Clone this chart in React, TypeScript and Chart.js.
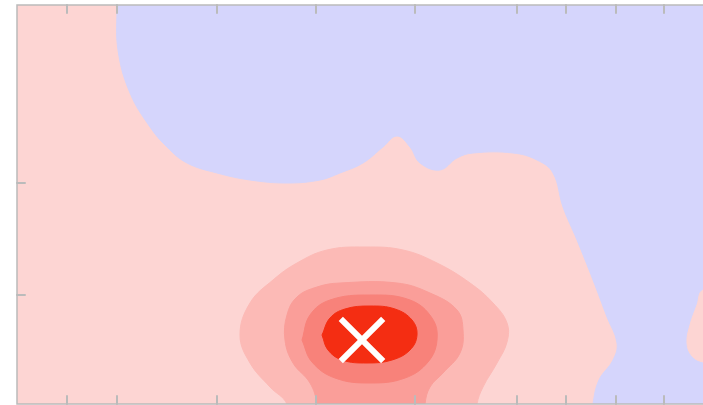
import React, { useEffect, useRef } from "react";
import { Chart, registerables } from "chart.js";

Chart.register(...registerables);

// Axis ticks (data units)
const xTicks = [50, 100, 200, 299, 398, 500, 549, 599, 647];
const yTicks = [178, 290];

// Contour regions as boundary points (x, y) in data units
const blueRegionX = [100, 100, 101, 113, 133, 150, 170, 200, 233, 270, 303, 323, 346, 366, 380, 393, 403, 423, 440, 456, 496, 520, 536, 546, 560, 576, 590, 600, 596, 582, 576, 574, 720, 720];
const blueRegionY = [-25, 0, 45, 88, 122, 142, 158, 168, 175, 178, 175, 168, 158, 142, 131, 142, 158, 165, 153, 148, 148, 155, 168, 202, 235, 275, 312, 338, 355, 375, 399, 425, 425, -25];

const rightPinkX = [720, 686, 680, 673, 670, 675, 686, 720];
const rightPinkY = [280, 285, 300, 320, 338, 351, 357, 362];

const ring1X = [273, 270, 253, 233, 223, 233, 256, 280, 310, 348, 386, 420, 453, 476, 490, 490, 480, 466, 460, 458];
const ring1Y = [425, 399, 382, 358, 330, 298, 275, 258, 245, 242, 245, 258, 278, 298, 318, 337, 358, 382, 399, 425];

const ring2X = [301, 300, 293, 276, 268, 270, 280, 300, 323, 380, 413, 440, 446, 443, 426, 413, 408, 407];
const ring2Y = [425, 399, 378, 358, 335, 310, 292, 282, 278, 278, 288, 305, 325, 348, 368, 382, 399, 425];

const ring3X = [285, 293, 313, 353, 393, 415, 420, 411, 388, 353, 318, 295, 285];
const ring3Y = [335, 310, 295, 290, 295, 313, 335, 357, 373, 378, 373, 357, 335];

const coreX = [305, 313, 328, 353, 378, 395, 400, 393, 375, 350, 325, 311, 305];
const coreY = [330, 313, 304, 301, 304, 315, 330, 345, 355, 358, 355, 345, 330];

const optimumX = [345];
const optimumY = [335];

const pts = (xs: number[], ys: number[]) => xs.map((x, i) => ({ x, y: ys[i] }));

const COLORS = {
  pink: "#fdd5d3",
  blue: "#d5d5fc",
  ring1: "#fcbab6",
  ring2: "#fa9e99",
  ring3: "#f8827a",
  core: "#f42d12",
  axis: "#bbbbbb",
};

function region(xs: number[], ys: number[], color: string, order: number) {
  return {
    type: "line" as const,
    data: pts(xs, ys),
    showLine: true,
    fill: "shape",
    backgroundColor: color,
    borderColor: color,
    borderWidth: 1,
    pointRadius: 0,
    tension: 0.4,
    order,
    clip: 0,
  };
}

export default function App() {
  const ref = useRef<HTMLCanvasElement | null>(null);

  useEffect(() => {
    document.body.style.margin = "0";
    document.body.style.overflow = "hidden";
    const canvas = ref.current!;
    const bgPlugin = {
      id: "bg",
      beforeDatasetsDraw(chart: any) {
        const { ctx, chartArea } = chart;
        ctx.save();
        ctx.fillStyle = COLORS.pink;
        ctx.fillRect(chartArea.left, chartArea.top, chartArea.right - chartArea.left, chartArea.bottom - chartArea.top);
        ctx.restore();
      },
      afterDraw(chart: any) {
        const { ctx, chartArea, scales } = chart;
        const { left, right, top, bottom } = chartArea;
        ctx.save();
        ctx.strokeStyle = COLORS.axis;
        ctx.lineWidth = 1.5;
        ctx.beginPath();
        ctx.moveTo(right, top);
        ctx.lineTo(left, top);
        ctx.lineTo(left, bottom);
        ctx.lineTo(right, bottom);
        ctx.stroke();
        ctx.lineWidth = 2;
        ctx.lineCap = "round";
        const len = 8;
        ctx.beginPath();
        for (const v of xTicks) {
          const px = scales.x.getPixelForValue(v);
          ctx.moveTo(px, top);
          ctx.lineTo(px, top + len);
          ctx.moveTo(px, bottom);
          ctx.lineTo(px, bottom - len);
        }
        for (const v of yTicks) {
          const py = scales.y.getPixelForValue(v);
          ctx.moveTo(left, py);
          ctx.lineTo(left + len, py);
        }
        ctx.stroke();
        ctx.restore();
      },
    };

    const chart = new Chart(canvas, {
      type: "line",
      data: {
        datasets: [
          region(blueRegionX, blueRegionY, COLORS.blue, 6),
          region(rightPinkX, rightPinkY, COLORS.pink, 5),
          region(ring1X, ring1Y, COLORS.ring1, 4),
          region(ring2X, ring2Y, COLORS.ring2, 3),
          region(ring3X, ring3Y, COLORS.ring3, 2),
          region(coreX, coreY, COLORS.core, 1),
          {
            type: "line",
            data: pts(optimumX, optimumY),
            showLine: false,
            pointStyle: "crossRot",
            pointRadius: 30,
            pointBorderWidth: 6,
            pointBorderColor: "#ffffff",
            pointBackgroundColor: "#ffffff",
            order: 0,
          } as any,
        ] as any,
      },
      options: {
        responsive: false,
        animation: false,
        devicePixelRatio: 1,
        layout: { autoPadding: false, padding: { left: 17, top: 5, right: 0, bottom: 1 } },
        scales: {
          x: { type: "linear", min: 0, max: 686, display: false },
          y: { type: "linear", min: 0, max: 399, reverse: true, display: false },
        },
        elements: { line: { capBezierPoints: false } },
        plugins: { legend: { display: false }, tooltip: { enabled: false } },
      } as any,
      plugins: [bgPlugin],
    });
    return () => chart.destroy();
  }, []);

  return (
    <div style={{ position: "fixed", left: 0, top: 0, width: 703, height: 405 }}>
      <canvas ref={ref} width={703} height={405} style={{ display: "block" }} />
    </div>
  );
}
